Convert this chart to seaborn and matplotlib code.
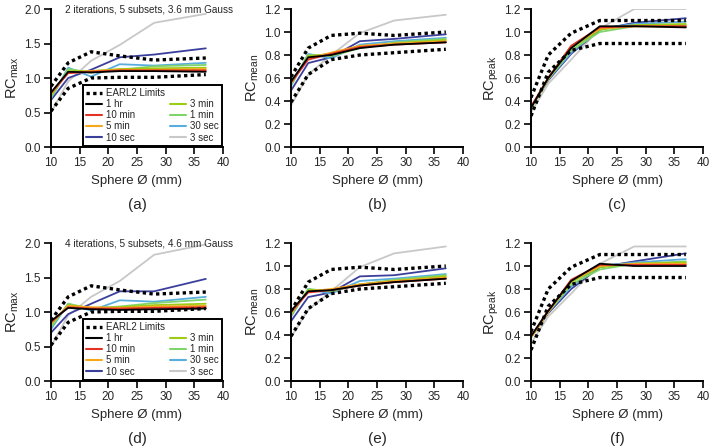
import matplotlib
matplotlib.use("Agg")
import matplotlib.pyplot as plt
from matplotlib.lines import Line2D
import seaborn as sns
import pandas as pd

# sphere diameters (mm)
spheres = [10, 13, 17, 22, 28, 37]

times = ["1 hr", "10 min", "5 min", "10 sec", "3 min", "1 min", "30 sec", "3 sec"]
colors = {
    "1 hr": "#000000",
    "10 min": "#e03326",
    "5 min": "#f5a81e",
    "10 sec": "#3b3f9c",
    "3 min": "#9ccc14",
    "1 min": "#80d46c",
    "30 sec": "#5aaede",
    "3 sec": "#c8c8c8",
}
draw_order = ["3 sec", "10 sec", "30 sec", "1 min", "3 min", "5 min", "10 min", "1 hr"]

# EARL2 limits
earl_max_lo = [0.52, 0.85, 1.00, 1.01, 1.01, 1.05]
earl_max_hi = [0.88, 1.22, 1.38, 1.32, 1.26, 1.29]
earl_mean_lo = [0.39, 0.63, 0.76, 0.80, 0.82, 0.85]
earl_mean_hi = [0.61, 0.86, 0.97, 0.99, 0.97, 1.00]
earl_peak_lo = [0.27, 0.65, 0.84, 0.90, 0.90, 0.90]
earl_peak_hi = [0.43, 0.80, 0.99, 1.10, 1.10, 1.10]

# 2 iterations, 5 subsets, 3.6 mm Gauss
rcmax_2it = {
    "3 sec": [0.50, 0.95, 1.25, 1.48, 1.80, 1.93],
    "10 sec": [0.68, 1.00, 1.12, 1.30, 1.34, 1.43],
    "30 sec": [0.70, 1.15, 1.02, 1.20, 1.18, 1.22],
    "1 min": [0.72, 1.13, 1.08, 1.12, 1.17, 1.19],
    "3 min": [0.75, 1.10, 1.10, 1.13, 1.14, 1.15],
    "5 min": [0.77, 1.08, 1.10, 1.12, 1.12, 1.13],
    "10 min": [0.78, 1.07, 1.09, 1.11, 1.11, 1.11],
    "1 hr": [0.79, 1.09, 1.08, 1.10, 1.10, 1.09],
}
rcmean_2it = {
    "3 sec": [0.36, 0.63, 0.80, 0.99, 1.10, 1.15],
    "10 sec": [0.49, 0.73, 0.78, 0.92, 0.94, 0.98],
    "30 sec": [0.53, 0.81, 0.77, 0.89, 0.92, 0.95],
    "1 min": [0.54, 0.80, 0.79, 0.86, 0.91, 0.94],
    "3 min": [0.55, 0.79, 0.81, 0.87, 0.90, 0.93],
    "5 min": [0.56, 0.77, 0.82, 0.88, 0.90, 0.92],
    "10 min": [0.56, 0.76, 0.81, 0.87, 0.89, 0.91],
    "1 hr": [0.57, 0.78, 0.80, 0.86, 0.89, 0.91],
}
rcpeak_2it = {
    "3 sec": [0.30, 0.55, 0.76, 1.03, 1.20, 1.20],
    "10 sec": [0.35, 0.58, 0.81, 1.02, 1.08, 1.12],
    "30 sec": [0.34, 0.59, 0.82, 1.03, 1.07, 1.09],
    "1 min": [0.34, 0.59, 0.84, 1.00, 1.05, 1.06],
    "3 min": [0.34, 0.59, 0.86, 1.02, 1.06, 1.07],
    "5 min": [0.34, 0.60, 0.87, 1.03, 1.05, 1.05],
    "10 min": [0.35, 0.60, 0.88, 1.04, 1.05, 1.05],
    "1 hr": [0.34, 0.60, 0.86, 1.05, 1.05, 1.04],
}

# 4 iterations, 5 subsets, 4.6 mm Gauss
rcmax_4it = {
    "3 sec": [0.50, 0.95, 1.22, 1.45, 1.83, 1.98],
    "10 sec": [0.70, 0.97, 1.12, 1.30, 1.30, 1.48],
    "30 sec": [0.75, 1.12, 1.02, 1.17, 1.15, 1.22],
    "1 min": [0.78, 1.12, 1.05, 1.08, 1.13, 1.18],
    "3 min": [0.82, 1.10, 1.06, 1.07, 1.10, 1.12],
    "5 min": [0.84, 1.09, 1.07, 1.06, 1.08, 1.09],
    "10 min": [0.85, 1.07, 1.05, 1.05, 1.06, 1.07],
    "1 hr": [0.87, 1.06, 1.04, 1.03, 1.04, 1.05],
}
rcmean_4it = {
    "3 sec": [0.38, 0.62, 0.78, 0.99, 1.11, 1.17],
    "10 sec": [0.52, 0.73, 0.77, 0.91, 0.92, 0.98],
    "30 sec": [0.56, 0.80, 0.76, 0.87, 0.89, 0.93],
    "1 min": [0.57, 0.80, 0.78, 0.84, 0.88, 0.92],
    "3 min": [0.58, 0.79, 0.79, 0.84, 0.87, 0.91],
    "5 min": [0.59, 0.78, 0.80, 0.84, 0.87, 0.90],
    "10 min": [0.60, 0.77, 0.79, 0.83, 0.86, 0.89],
    "1 hr": [0.61, 0.78, 0.79, 0.83, 0.86, 0.89],
}
rcpeak_4it = {
    "3 sec": [0.33, 0.56, 0.76, 1.02, 1.17, 1.17],
    "10 sec": [0.38, 0.59, 0.80, 0.99, 1.04, 1.11],
    "30 sec": [0.38, 0.60, 0.82, 1.00, 1.03, 1.06],
    "1 min": [0.38, 0.60, 0.84, 0.97, 1.02, 1.04],
    "3 min": [0.38, 0.60, 0.86, 0.99, 1.02, 1.03],
    "5 min": [0.38, 0.60, 0.87, 1.00, 1.02, 1.02],
    "10 min": [0.39, 0.61, 0.88, 1.01, 1.01, 1.01],
    "1 hr": [0.39, 0.61, 0.87, 1.02, 1.00, 1.00],
}

sns.set_style("ticks")
plt.rcParams['font.family'] = ['Liberation Sans', 'DejaVu Sans']
plt.rcParams['mathtext.default'] = 'regular'

fig = plt.figure(figsize=(7.12, 4.46), dpi=100)

lefts = [0.0716, 0.4087, 0.7458]
bottoms = [0.6704, 0.1457]
w, h = 0.2416, 0.3094
dots = (0, (1, 1))

panels = [
    (rcmax_2it, earl_max_lo, earl_max_hi, 'RC$_{max}$', 2.0, 0.5, '(a)'),
    (rcmean_2it, earl_mean_lo, earl_mean_hi, 'RC$_{mean}$', 1.2, 0.2, '(b)'),
    (rcpeak_2it, earl_peak_lo, earl_peak_hi, 'RC$_{peak}$', 1.2, 0.2, '(c)'),
    (rcmax_4it, earl_max_lo, earl_max_hi, 'RC$_{max}$', 2.0, 0.5, '(d)'),
    (rcmean_4it, earl_mean_lo, earl_mean_hi, 'RC$_{mean}$', 1.2, 0.2, '(e)'),
    (rcpeak_4it, earl_peak_lo, earl_peak_hi, 'RC$_{peak}$', 1.2, 0.2, '(f)'),
]
titles = {0: "2 iterations, 5 subsets, 3.6 mm Gauss", 3: "4 iterations, 5 subsets, 4.6 mm Gauss"}

for i, (data, lo, hi, ylab, ymax, ystep, cap) in enumerate(panels):
    ax = fig.add_axes([lefts[i % 3], bottoms[i // 3], w, h])
    rows = []
    for t in draw_order:
        for x, v in zip(spheres, data[t]):
            rows.append({"sphere": x, "rc": v, "time": t})
    df = pd.DataFrame(rows)
    sns.lineplot(data=df, x="sphere", y="rc", hue="time", hue_order=draw_order,
                 palette=colors, linewidth=1.3, legend=False, ax=ax)
    sns.lineplot(x=spheres, y=lo, color="black", linestyle=dots, linewidth=2.4, ax=ax)
    sns.lineplot(x=spheres, y=hi, color="black", linestyle=dots, linewidth=2.4, ax=ax)

    ax.set_xlim(10, 40)
    ax.set_ylim(0, ymax)
    ax.set_xticks([10, 15, 20, 25, 30, 35, 40])
    n = int(round(ymax / ystep))
    ax.set_yticks([round(k * ystep, 1) for k in range(n + 1)])
    ax.set_yticklabels([f"{k * ystep:.1f}" for k in range(n + 1)])
    ax.set_xlabel("Sphere Ø (mm)", fontsize=9.5, labelpad=4)
    ax.set_ylabel(ylab, fontsize=10.5, labelpad=2)
    ax.tick_params(axis="both", labelsize=8.5, width=1.4, length=5, direction="out", pad=2.5)
    sns.despine(ax=ax)
    for s in ["left", "bottom"]:
        ax.spines[s].set_linewidth(1.4)
        ax.spines[s].set_color("black")
    ax.text(0.5, -0.42, cap, transform=ax.transAxes, ha="center", va="center", fontsize=11)

    if i in titles:
        ax.text(0.08, 1.0, titles[i], transform=ax.transAxes, ha="left", va="center", fontsize=7.2)
        handles = [Line2D([], [], color="black", linestyle=dots, linewidth=2.4)]
        labels = ["EARL2 Limits"]
        for t in ["1 hr", "10 min", "5 min", "10 sec"]:
            handles.append(Line2D([], [], color=colors[t], linewidth=1.5))
            labels.append(t)
        handles.append(Line2D([], [], color="none"))
        labels.append("")
        for t in ["3 min", "1 min", "30 sec", "3 sec"]:
            handles.append(Line2D([], [], color=colors[t], linewidth=1.5))
            labels.append(t)
        leg = ax.legend(handles, labels, ncol=2, loc="lower right", bbox_to_anchor=(1.0, 0.0),
                        fontsize=7, frameon=True, fancybox=False, handlelength=1.6,
                        handletextpad=0.4, columnspacing=0.6, labelspacing=0.12,
                        borderpad=0.35, borderaxespad=0.1)
        leg.get_frame().set_edgecolor("black")
        leg.get_frame().set_linewidth(1.4)
        leg.get_frame().set_alpha(1.0)

fig.savefig("out.png", dpi=100)
